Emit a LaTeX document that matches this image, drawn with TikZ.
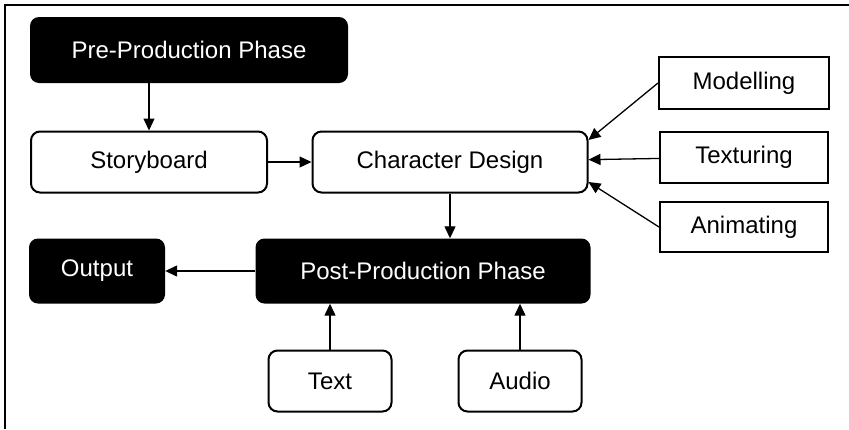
\documentclass[tikz,border=0pt]{standalone}
\usepackage{fontspec}
\setmainfont{Liberation Sans}
\usetikzlibrary{arrows.meta}
\begin{document}
\begin{tikzpicture}[x=1pt, y=-1pt, font=\fontsize{24}{28}\selectfont,
	phase/.style={rectangle, rounded corners=9pt, fill=black, text=white, inner sep=0pt},
	stage/.style={rectangle, rounded corners=9pt, draw, line width=2pt, inner sep=0pt},
	task/.style={rectangle, draw, line width=2pt, inner sep=0pt},
	link/.style={line width=1.3pt, -{Triangle[length=12pt, width=11pt]}}]
	\useasboundingbox (0, 0) rectangle (849, 429);
	\draw[line width=1.5pt] (5, 429) -- (5, 5) -- (849, 5);
	\node[phase, minimum width=318pt, minimum height=66pt] (pre) at (189, 50) {Pre-Production Phase};
	\node[stage, minimum width=236pt, minimum height=61pt] (story) at (149, 162) {Storyboard};
	\node[stage, minimum width=275pt, minimum height=61pt] (char) at (450, 162) {Character Design};
	\node[task, minimum width=170pt, minimum height=52pt] (model) at (744, 83) {Modelling};
	\node[task, minimum width=168pt, minimum height=51pt] (tex) at (744, 157) {Texturing};
	\node[task, minimum width=168pt, minimum height=50pt] (anim) at (744, 227) {Animating};
	\node[phase, minimum width=136pt, minimum height=65pt] (out) at (97, 271) {Output};
	\node[phase, minimum width=335pt, minimum height=65pt] (post) at (423, 271) {Post-Production Phase};
	\node[stage, minimum width=123pt, minimum height=61pt] (text) at (330, 381) {Text};
	\node[stage, minimum width=123pt, minimum height=61pt] (audio) at (520, 381) {Audio};
	\draw[link] (pre.south -| story) -- (story);
	\draw[link] (story) -- (story -| char.west);
	\draw[link] (char) -- (char |- post.north);
	\draw[link] (model.west) -- ([yshift=22pt]char.east);
	\draw[link] (tex) -- (char);
	\draw[link] (anim.west) -- ([yshift=-20pt]char.east);
	\draw[link] (post) -- (out);
	\draw[link] (text) -- (text |- post.south);
	\draw[link] (audio) -- (audio |- post.south);
\end{tikzpicture}
\end{document}
